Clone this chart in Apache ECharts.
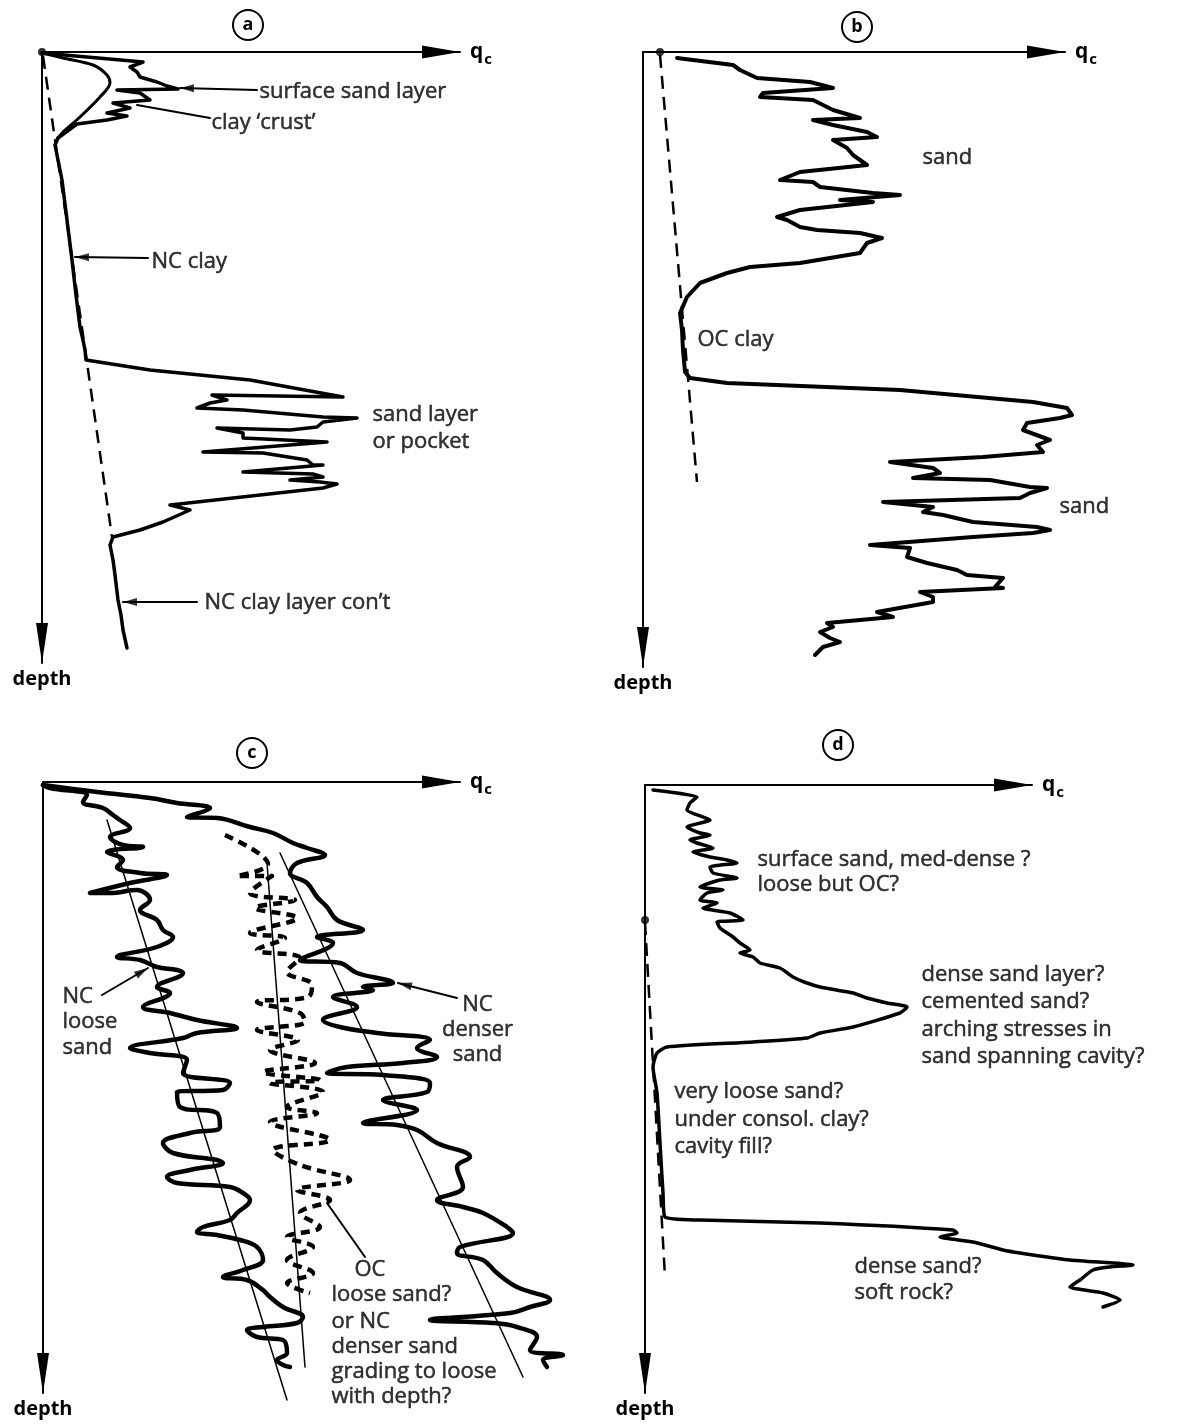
<!DOCTYPE html>
<html>
<head>
<meta charset="utf-8">
<title>CPT profile interpretation</title>
<script src="https://cdn.jsdelivr.net/npm/echarts/dist/echarts.min.js"></script>
<style>
  html, body { margin: 0; padding: 0; background: #fff; }
  #chart { width: 1184px; height: 1427px; }
</style>
</head>
<body>
<div id="chart"></div>
<script>
// ---------------------------------------------------------------------------
// Profiles: each point is [qc, depth] in the panel's own sketch units
// ---------------------------------------------------------------------------

// (a) NC clay with a surface sand layer, a clay crust and a sand pocket
const aSurfaceSand = [[0,1],[101,10],[88,15],[95,20],[98,25],[115,30],[125,34],[136,37],[75,38],[98,41],[108,48],[71,51],[88,56],[65,61],[85,64],[65,68],[35,72],[16,86]];
const aClayCrust = [[0,1],[21,6],[51,13],[65,23],[68,31],[58,45],[38,65],[21,80],[16,86]];
const aProfile = [[16,86],[13,93],[20,128],[25,168],[30,208],[34,243],[38,275],[41,288],[43,298],[44,308],[46,310],[108,318],[208,328],[301,345],[170,343],[185,348],[168,351],[155,356],[201,358],[281,365],[315,366],[281,370],[275,375],[248,378],[175,376],[201,381],[201,386],[285,390],[161,400],[221,401],[265,408],[271,413],[281,413],[201,420],[271,422],[281,425],[248,428],[278,430],[295,432],[281,436],[128,453],[148,458],[121,470],[98,478],[71,485],[68,493],[71,508],[73,523],[76,548],[79,563],[81,578],[85,596]];
const aNCTrend = [[1,4],[70,485]];

// (b) sand over OC clay over sand
const bProfile = [[34,6],[90,13],[97,18],[114,26],[167,30],[190,36],[120,41],[117,45],[170,48],[190,58],[217,66],[170,68],[190,73],[224,80],[234,85],[190,88],[204,96],[210,103],[224,113],[157,120],[137,128],[170,130],[177,135],[230,141],[257,143],[197,148],[230,150],[157,158],[134,165],[144,168],[157,175],[174,178],[217,181],[239,186],[224,191],[217,201],[157,211],[107,215],[84,221],[57,231],[44,245],[37,261],[39,278],[40,298],[42,320],[47,326],[84,331],[257,338],[390,350],[424,356],[429,363],[417,366],[384,371],[380,378],[407,388],[394,393],[400,400],[340,405],[247,410],[290,416],[297,421],[270,426],[347,428],[387,435],[404,436],[387,441],[377,446],[240,450],[290,455],[280,460],[300,463],[330,470],[394,475],[407,478],[390,481],[330,485],[227,493],[267,496],[264,505],[284,511],[314,518],[324,523],[360,526],[352,535],[360,536],[277,540],[290,545],[290,550],[234,560],[250,565],[184,571],[190,575],[177,580],[187,586],[197,590],[180,595],[172,603]];
const bNCTrend = [[17,3],[54,430]];

// (c) NC loose sand, OC sand (dashed) and NC denser sand
const cLooseSand = [[0,3],[7,6],[44,13],[40,20],[60,26],[70,33],[77,38],[87,46],[67,55],[80,63],[100,65],[64,70],[80,78],[74,85],[97,91],[124,93],[87,101],[47,111],[67,111],[94,108],[107,118],[97,128],[114,138],[120,148],[130,155],[114,165],[74,175],[97,178],[114,185],[134,188],[140,191],[114,205],[127,211],[100,225],[127,231],[154,238],[194,246],[154,251],[140,256],[87,266],[107,271],[144,278],[140,291],[187,301],[180,308],[134,310],[137,325],[174,331],[177,345],[147,351],[120,361],[130,371],[174,378],[180,381],[147,388],[124,395],[134,401],[187,405],[200,411],[207,418],[194,431],[187,438],[160,445],[154,450],[174,453],[197,458],[214,465],[220,478],[200,488],[180,495],[204,498],[220,508],[227,515],[240,525],[260,535],[254,541],[220,545],[204,548],[214,555],[240,558],[244,571],[234,578],[240,583],[247,585]];
const cDenserSand = [[0,3],[54,10],[107,16],[134,21],[167,26],[144,35],[174,36],[207,45],[230,51],[250,61],[264,66],[282,73],[254,81],[247,91],[264,101],[274,115],[284,125],[294,138],[320,148],[274,155],[290,161],[257,178],[297,181],[314,191],[344,198],[350,201],[320,205],[330,208],[290,215],[314,225],[280,238],[297,245],[334,251],[387,258],[374,266],[394,275],[360,281],[304,285],[284,291],[340,293],[387,301],[384,310],[340,318],[374,328],[320,341],[354,343],[374,348],[394,361],[427,375],[414,385],[420,405],[394,418],[420,425],[440,431],[464,445],[470,451],[417,465],[414,471],[440,478],[454,491],[474,505],[507,518],[487,525],[467,531],[387,538],[450,541],[474,545],[494,555],[487,568],[520,573],[500,578],[504,585]];
const cOCSand = [[182,53],[225,82],[194,94],[229,94],[207,111],[252,118],[212,126],[254,136],[207,151],[242,156],[214,168],[257,176],[244,190],[269,203],[265,215],[214,220],[257,231],[262,240],[214,248],[255,258],[227,268],[272,281],[220,290],[277,298],[227,301],[280,310],[244,325],[274,331],[227,340],[287,358],[230,368],[257,383],[307,398],[254,408],[287,418],[257,431],[277,445],[244,455],[270,465],[244,478],[270,491],[244,501],[267,511]];
const cLooseTrend = [[64,38],[244,618]];
const cOCTrend = [[224,81],[262,585]];
const cDenserTrend = [[237,71],[480,595]];

// (d) surface sand, dense/cemented layer, very loose zone, dense sand / soft rock
const dProfile = [[8,5],[52,12],[45,18],[42,25],[58,32],[65,35],[42,42],[55,48],[65,50],[45,55],[52,58],[68,63],[48,67],[65,72],[82,75],[92,78],[65,82],[68,88],[92,93],[75,95],[55,102],[78,105],[62,108],[55,115],[72,118],[58,123],[85,128],[98,135],[72,137],[75,143],[88,152],[95,158],[105,165],[95,168],[108,172],[115,178],[135,183],[148,192],[162,198],[175,202],[208,208],[222,213],[242,218],[262,222],[255,228],[208,242],[175,248],[162,253],[108,257],[22,262],[12,268],[8,282],[12,308],[15,358],[18,408],[20,432],[55,435],[175,438],[308,445],[312,448],[295,452],[328,457],[358,465],[375,468],[425,475],[488,480],[465,482],[448,485],[435,495],[425,502],[458,508],[475,515],[458,522]];
const dNCTrend = [[0,137],[20,492]];

// Panel letters and annotation texts
const panelLetters = ['a', 'b', 'c', 'd'];
const aNotes = ['surface sand layer', 'clay \u2018crust\u2019', 'NC clay', 'sand layer', 'or pocket', 'NC clay layer con\u2019t'];
const bNotes = ['sand', 'OC clay', 'sand'];
const cNotes = ['NC', 'loose', 'sand', 'NC', 'denser', 'sand', 'OC', 'loose sand?', 'or NC', 'denser sand', 'grading to loose', 'with depth?'];
const dNotes = ['surface sand, med-dense ?', 'loose but OC?', 'dense sand layer?', 'cemented sand?', 'arching stresses in', 'sand spanning cavity?', 'very loose sand?', 'under consol. clay?', 'cavity fill?', 'dense sand?', 'soft rock?'];

// ---------------------------------------------------------------------------
// Layout
// ---------------------------------------------------------------------------
const INK = '#000';
const FONT = '"Open Sans", "DejaVu Sans", sans-serif';
const ARROW_LEN = 38;
const PAGE_W = 1184;
const PAGE_H = 1427;

// frame = the drawn qc / depth axes of each panel
const panels = [
  { left: 42,  top: 52,  width: 418, height: 611, badge: [248, 25] },
  { left: 643, top: 52,  width: 422, height: 615, badge: [857, 27] },
  { left: 43,  top: 782, width: 417, height: 611, badge: [252, 753] },
  { left: 645, top: 785, width: 387, height: 608, badge: [838, 745] }
];
// plotting area of each panel: same origin and scale as its frame (one unit
// per pixel), reaching to the page edge so traces may run past the qc arrow
const plots = panels.map(p => ({ left: p.left, top: p.top, width: PAGE_W - p.left, height: PAGE_H - p.top }));
const P = 4; // index offset of the plotting axes

// anchor of every note in its panel (text starts there unless centred)
const aNoteAt = [[218,40],[170,71],[110,210],[331,363],[331,390],[163,551]];
const bNoteAt = [[280,106],[55,288],[417,455]];
const cNoteAt = [[20,215],[20,240],[20,266],[435,223,'center'],[435,248,'center'],[435,273,'center'],[312,488],[289,513],[289,540],[289,565],[289,590],[289,615]];
const dNoteAt = [[113,75],[113,100],[277,190],[277,217],[277,245],[277,272],[30,307],[30,335],[30,362],[210,482],[210,508]];

// leader lines: [panel, from, to, arrowhead]
const leaders = [
  [0, [215,38], [138,36], true],
  [0, [168,66], [95,53], false],
  [0, [106,206], [33,205], true],
  [0, [155,550], [81,550], true],
  [2, [59,213], [105,186], true],
  [2, [414,216], [355,201], true],
  [2, [322,475], [284,421], false]
];

// ---------------------------------------------------------------------------
// Series builders
// ---------------------------------------------------------------------------
function curve(i, data, width, extra) {
  const s = {
    type: 'line', xAxisIndex: i + P, yAxisIndex: i + P, data: data,
    symbol: 'none', showSymbol: false, clip: false, silent: true, z: 3,
    lineStyle: { color: INK, width: width, cap: 'round', join: 'round' }
  };
  if (extra) {
    if (extra.dash) s.lineStyle.type = extra.dash;
    if (extra.smooth) s.smooth = extra.smooth;
    if (extra.cap) s.lineStyle.cap = extra.cap;
  }
  return s;
}

function leaderSeries(i, from, to, head) {
  const out = [curve(i, [from, to], 2)];
  if (head) {
    const dx = to[0] - from[0], dy = to[1] - from[1];
    const len = Math.hypot(dx, dy), ux = dx / len, uy = dy / len, hl = 14;
    out.push({
      type: 'scatter', xAxisIndex: i + P, yAxisIndex: i + P, clip: false, silent: true, z: 4,
      symbol: 'triangle', symbolSize: [8, hl],
      symbolRotate: Math.atan2(-ux, -uy) * 180 / Math.PI,
      itemStyle: { color: INK },
      data: [[to[0] - ux * hl / 2, to[1] - uy * hl / 2]]
    });
  }
  return out;
}

function noteSeries(i, texts, at) {
  return {
    type: 'scatter', xAxisIndex: i + P, yAxisIndex: i + P, clip: false, silent: true, z: 6,
    symbolSize: 1, itemStyle: { color: 'rgba(0,0,0,0)' },
    label: {
      show: true, position: [0, 0], formatter: '{b}', color: INK,
      fontFamily: FONT, fontSize: 22, align: 'left', verticalAlign: 'middle',
      textBorderColor: INK, textBorderWidth: 0.5
    },
    data: texts.map((t, k) => ({
      name: t, value: [at[k][0], at[k][1]],
      label: { align: at[k][2] || 'left' }
    }))
  };
}

function dotSeries(i, pts) {
  return {
    type: 'scatter', xAxisIndex: i + P, yAxisIndex: i + P, clip: false, silent: true, z: 5,
    symbol: 'circle', symbolSize: 8, itemStyle: { color: INK }, data: pts
  };
}

// ---------------------------------------------------------------------------
const series = [
  curve(0, aNCTrend, 2.5, { dash: [13, 8], cap: 'butt' }),
  curve(0, aSurfaceSand, 3.5),
  curve(0, aClayCrust, 3, { smooth: 0.3 }),
  curve(0, aProfile, 3.5),
  dotSeries(0, [[0, 0]]),

  curve(1, bNCTrend, 2.5, { dash: [13, 8], cap: 'butt' }),
  curve(1, bProfile, 4),
  dotSeries(1, [[17, 0]]),

  curve(2, cLooseTrend, 1.5),
  curve(2, cOCTrend, 1.5),
  curve(2, cDenserTrend, 1.5),
  curve(2, cOCSand, 4.5, { dash: [9, 6], smooth: 0.4, cap: 'butt' }),
  curve(2, cLooseSand, 4.5, { smooth: 0.4 }),
  curve(2, cDenserSand, 4.5, { smooth: 0.4 }),

  curve(3, dNCTrend, 2.5, { dash: [13, 8], cap: 'butt' }),
  curve(3, dProfile, 3.5, { smooth: 0.2 }),
  dotSeries(3, [[0, 135]]),

  noteSeries(0, aNotes, aNoteAt),
  noteSeries(1, bNotes, bNoteAt),
  noteSeries(2, cNotes, cNoteAt),
  noteSeries(3, dNotes, dNoteAt)
];
leaders.forEach(l => series.push(...leaderSeries(l[0], l[1], l[2], l[3])));

const frameX = panels.map((p, i) => ({
  gridIndex: i, type: 'value', position: 'top', min: 0, max: p.width,
  axisLine: {
    show: true, onZero: false, symbol: ['none', 'triangle'],
    symbolSize: [13, ARROW_LEN], symbolOffset: [0, -ARROW_LEN / 2],
    lineStyle: { color: INK, width: 2 }
  },
  axisTick: { show: false }, axisLabel: { show: false }, splitLine: { show: false },
  name: '{q|q}{c|c}', nameLocation: 'end', nameGap: 10,
  nameTextStyle: {
    rich: {
      q: { fontFamily: FONT, fontSize: 21, fontWeight: 'bold', color: INK },
      c: { fontFamily: FONT, fontSize: 15, fontWeight: 'bold', color: INK, padding: [16, 0, 0, 1] }
    }
  }
}));
const frameY = panels.map((p, i) => ({
  gridIndex: i, type: 'value', inverse: true, min: 0, max: p.height,
  axisLine: {
    show: true, onZero: false, symbol: ['triangle', 'none'],
    symbolSize: [12, ARROW_LEN + 2], symbolOffset: [(ARROW_LEN + 2) / 2, 0],
    lineStyle: { color: INK, width: 2 }
  },
  axisTick: { show: false }, axisLabel: { show: false }, splitLine: { show: false },
  name: 'depth', nameLocation: 'end', nameGap: 6,
  nameTextStyle: { fontFamily: FONT, fontSize: 20, fontWeight: 'bold', color: INK }
}));
const plotX = plots.map((p, i) => ({ gridIndex: i + P, type: 'value', show: false, min: 0, max: p.width }));
const plotY = plots.map((p, i) => ({ gridIndex: i + P, type: 'value', show: false, inverse: true, min: 0, max: p.height }));

const option = {
  backgroundColor: '#fff',
  animation: false,
  grid: panels.concat(plots).map(p => ({ left: p.left, top: p.top, width: p.width, height: p.height })),
  xAxis: frameX.concat(plotX),
  yAxis: frameY.concat(plotY),
  graphic: panels.flatMap((p, i) => [
    { type: 'circle', shape: { cx: p.badge[0], cy: p.badge[1], r: 15 },
      style: { fill: '#fff', stroke: INK, lineWidth: 2 }, silent: true },
    { type: 'text', x: p.badge[0], y: p.badge[1], silent: true,
      style: { text: panelLetters[i], fill: INK, font: 'bold 18px ' + FONT,
               align: 'center', verticalAlign: 'middle', textAlign: 'center', textVerticalAlign: 'middle' } }
  ]),
  series: series
};

const chart = echarts.init(document.getElementById('chart'));
chart.setOption(option);
</script>
</body>
</html>
